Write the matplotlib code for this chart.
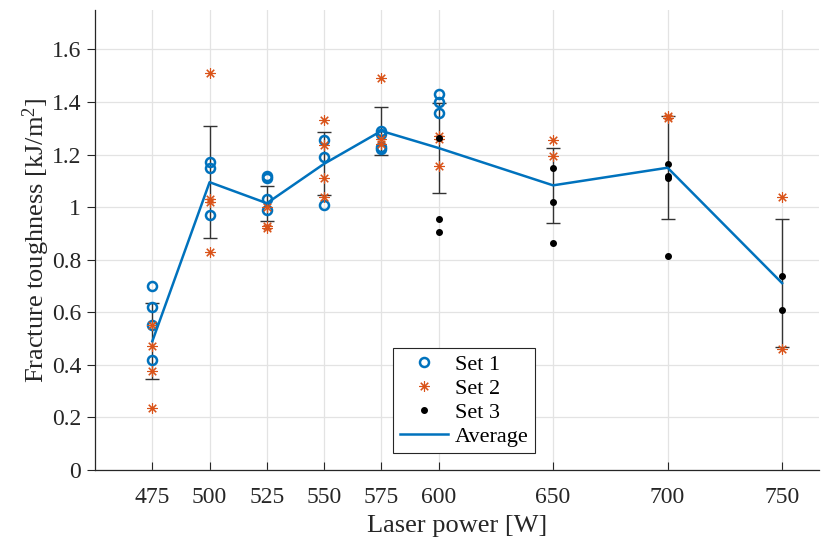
import numpy as np
import matplotlib
matplotlib.use("Agg")
import matplotlib.pyplot as plt

plt.rcParams['font.family'] = ['Liberation Serif', 'DejaVu Serif']
plt.rcParams['mathtext.fontset'] = 'custom'
plt.rcParams['mathtext.rm'] = 'Liberation Serif'
plt.rcParams['mathtext.default'] = 'regular'

# laser power levels
powers = [475, 500, 525, 550, 575, 600, 650, 700, 750]

# individual measurements per power level (kJ/m^2)
set1_vals = [[0.70, 0.62, 0.55, 0.42], [1.17, 1.15, 0.97], [1.12, 1.11, 1.03, 0.99],
             [1.255, 1.19, 1.01], [1.29, 1.28, 1.23, 1.22], [1.43, 1.40, 1.36],
             [], [], []]
set2_vals = [[0.55, 0.47, 0.375, 0.235], [1.51, 1.03, 1.02, 0.83], [1.00, 0.93, 0.92],
             [1.33, 1.235, 1.11, 1.04], [1.49, 1.26, 1.24], [1.27, 1.26, 1.155],
             [1.255, 1.195], [1.345, 1.34], [1.04, 0.46]]
set3_vals = [[], [], [], [], [], [1.265, 0.955, 0.905], [1.15, 1.02, 0.865],
             [1.165, 1.12, 1.11, 0.815], [0.74, 0.61]]

# average and standard deviation
avg = [0.49, 1.095, 1.015, 1.165, 1.29, 1.225, 1.083, 1.15, 0.711]
std = [0.145, 0.214, 0.067, 0.12, 0.09, 0.173, 0.142, 0.195, 0.244]


def flatten(vals):
    xs, ys = [], []
    for p, v in zip(powers, vals):
        xs += [p] * len(v)
        ys += v
    return xs, ys


blue = '#0072BD'
orange = '#D95319'

fig = plt.figure(figsize=(8.27, 5.45), dpi=100)
ax = fig.add_axes([0.115, 0.1376, 0.875, 0.844])

ax.errorbar(powers, avg, yerr=std, fmt='none', ecolor='#333333', elinewidth=1.0,
            capsize=4.7, capthick=1.0, zorder=2)

x1, y1 = flatten(set1_vals)
x2, y2 = flatten(set2_vals)
x3, y3 = flatten(set3_vals)
ax.plot(x1, y1, 'o', mfc='none', mec=blue, mew=1.8, ms=6.5, ls='none', label='Set 1', zorder=3)
ax.plot(x2, y2, marker=(8, 2, 0), color=orange, mew=0.8, ms=7.5, ls='none', label='Set 2', zorder=3)
ax.plot(x3, y3, '.', color='black', ms=8, ls='none', label='Set 3', zorder=3)
ax.plot(powers, avg, '-', color=blue, lw=1.8, label='Average', zorder=4)

ax.set_xlim(450, 766)
ax.set_ylim(0, 1.75)
ax.set_xticks(powers)
ax.set_yticks(np.arange(0, 1.61, 0.2))
ax.set_yticklabels(['0', '0.2', '0.4', '0.6', '0.8', '1', '1.2', '1.4', '1.6'])
ax.grid(True, color='#e3e3e3', lw=0.9)
ax.set_axisbelow(True)
for s in ['top', 'right']:
    ax.spines[s].set_visible(False)
for s in ['left', 'bottom']:
    ax.spines[s].set_color('#262626')
    ax.spines[s].set_linewidth(0.9)
ax.tick_params(axis='x', direction='in', length=6, labelsize=17, colors='#262626', pad=12)
ax.tick_params(axis='y', direction='out', length=6, labelsize=17, colors='#262626', pad=4)

ax.set_xlabel('Laser power [W]', fontsize=19, color='#262626', labelpad=5)
ax.set_ylabel('Fracture toughness [kJ/m$^{2}$]', fontsize=19, color='#262626', labelpad=0)

leg = ax.legend(loc='lower center', bbox_to_anchor=(0.51, 0.012), fontsize=16,
                fancybox=False, edgecolor='#262626', framealpha=1,
                borderpad=0.3, labelspacing=0.15, handletextpad=0.3, handlelength=2.2)
leg.get_frame().set_linewidth(0.8)

fig.savefig('out.png', dpi=100)
